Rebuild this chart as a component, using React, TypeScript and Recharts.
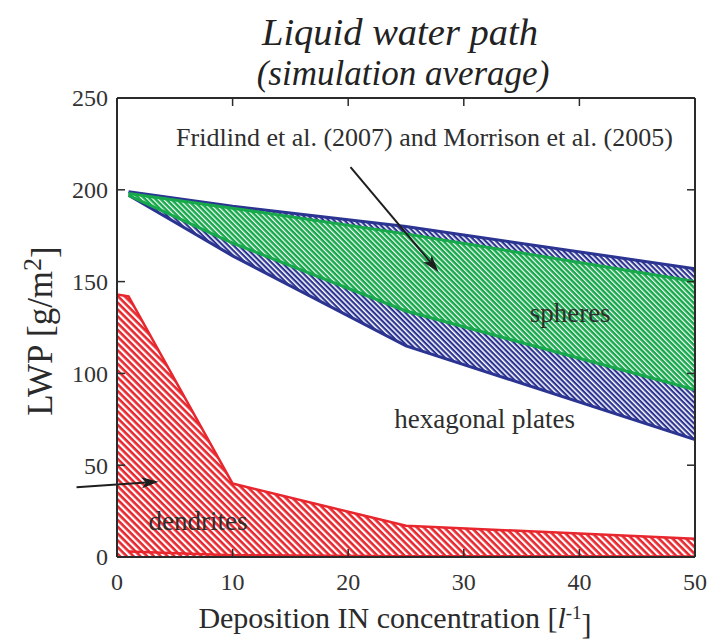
import React from 'react';
import {
  ComposedChart,
  Area,
  Line,
  XAxis,
  YAxis,
  ReferenceDot,
  ReferenceLine,
} from 'recharts';

// Deposition IN concentration [1/l] of the simulations
const bandConcentration = [1, 10, 25, 50];
const dendriteConcentration = [0, 1, 10, 25, 50];

// Liquid water path ranges [g/m2] for each ice habit
const platesLow = [197, 164, 115, 64];
const platesHigh = [199, 191, 180, 157];
const spheresLow = [197, 171, 134, 91];
const spheresHigh = [198, 190, 176, 150];
const dendritesHigh = [143, 142, 40, 17, 10];
const dendritesLow = [3, 1, 0.4, 0.3];

const xTicks = [0, 10, 20, 30, 40, 50];
const yTicks = [0, 50, 100, 150, 200, 250];

const habitNames = ['spheres', 'hexagonal plates', 'dendrites'];
const habitNameX = [39.2, 31.8, 7.0];
const habitNameY = [133, 75.5, 20];

const referenceNote = 'Fridlind et al. (2007) and Morrison et al. (2005)';
const referenceNoteAt = { x: 26.6, y: 229 };

// annotation arrows (tail -> tip) in axis units
const arrowTail = [
  { x: 20.2, y: 212.4 },
  { x: -3.5, y: 38 },
];
const arrowTip = [
  { x: 27.8, y: 155.4 },
  { x: 3.6, y: 41 },
];

const RED = '#e8262d';
const GREEN = '#17a84c';
const BLUE = '#2c3492';
const INK = '#2b2b2b';
const SERIF = '"Liberation Serif", "Times New Roman", serif';

const platesRows = bandConcentration.map((x, i) => ({ x, v: [platesLow[i], platesHigh[i]] }));
const spheresRows = bandConcentration.map((x, i) => ({ x, v: [spheresLow[i], spheresHigh[i]] }));
const dendriteRows = dendriteConcentration.map((x, i) => ({ x, v: dendritesHigh[i] }));
const dendriteFloorRows = bandConcentration.map((x, i) => ({ x, v: dendritesLow[i] }));

const TICK_LEN = 8;

const LeftTick = (p: any) => (
  <g>
    <line x1={p.x} x2={p.x + TICK_LEN} y1={p.y} y2={p.y} stroke={INK} strokeWidth={1.5} />
    <text x={p.x - 9} y={p.y} dy="0.35em" textAnchor="end" fontFamily={SERIF} fontSize={24} fill="#333">
      {p.payload.value}
    </text>
  </g>
);

const BottomTick = (p: any) => (
  <g>
    <line x1={p.x} x2={p.x} y1={p.y} y2={p.y - TICK_LEN} stroke={INK} strokeWidth={1.5} />
    <text x={p.x} y={p.y + 33} textAnchor="middle" fontFamily={SERIF} fontSize={24} fill="#333">
      {p.payload.value}
    </text>
  </g>
);

const TopTick = (p: any) => (
  <line x1={p.x} x2={p.x} y1={p.y} y2={p.y + TICK_LEN} stroke={INK} strokeWidth={1.5} />
);

const RightTick = (p: any) => (
  <line x1={p.x} x2={p.x - TICK_LEN} y1={p.y} y2={p.y} stroke={INK} strokeWidth={1.5} />
);

const arrowShape = (p: any) => {
  const { x1, y1, x2, y2 } = p;
  const a = Math.atan2(y2 - y1, x2 - x1);
  const c = Math.cos(a);
  const s = Math.sin(a);
  const len = 17;
  const half = 5.5;
  const bx = x2 - len * c;
  const by = y2 - len * s;
  const nx = x2 - len * 0.75 * c;
  const ny = y2 - len * 0.75 * s;
  const pts = [
    [x2, y2],
    [bx - half * s, by + half * c],
    [nx, ny],
    [bx + half * s, by - half * c],
  ]
    .map((q) => q.join(','))
    .join(' ');
  return (
    <g>
      <line x1={x1} y1={y1} x2={nx} y2={ny} stroke="#1e1e1e" strokeWidth={2} />
      <polygon points={pts} fill="#1e1e1e" />
    </g>
  );
};

const textShape = (label: string, size: number) => (p: any) => (
  <text
    x={p.cx}
    y={p.cy}
    dy="0.35em"
    textAnchor="middle"
    fontFamily={SERIF}
    fontSize={size}
    fill="#2e2e2e"
  >
    {label}
  </text>
);

export default function App() {
  return (
    <div style={{ position: 'absolute', left: 0, top: 0, background: '#fff' }}>
      <ComposedChart
        width={712}
        height={641}
        margin={{ top: 97, right: 16, bottom: 0, left: 0 }}
      >
        <defs>
          <pattern id="hatchRed" patternUnits="userSpaceOnUse" width={4.8} height={4.8} patternTransform="rotate(45)">
            <rect width={4.8} height={4.8} fill="#fff" />
            <rect width={4.8} height={2.6} fill={RED} />
          </pattern>
          <pattern id="hatchBlue" patternUnits="userSpaceOnUse" width={3.7} height={3.7} patternTransform="rotate(45)">
            <rect width={3.7} height={3.7} fill="#fff" />
            <rect width={3.7} height={2.2} fill={BLUE} />
          </pattern>
          <pattern id="hatchGreen" patternUnits="userSpaceOnUse" width={3.7} height={3.7} patternTransform="rotate(45)">
            <rect width={3.7} height={3.7} fill="#fff" />
            <rect width={3.7} height={2.5} fill={GREEN} />
          </pattern>
        </defs>

        <text x={400} y={45} textAnchor="middle" fontFamily={SERIF} fontStyle="italic" fontSize={38.5} fill="#222">
          Liquid water path
        </text>
        <text x={403} y={85} textAnchor="middle" fontFamily={SERIF} fontStyle="italic" fontSize={35} fill="#222">
          (simulation average)
        </text>
        <text
          x={40}
          y={331}
          transform="rotate(-90 40 331)"
          textAnchor="middle"
          dy="0.35em"
          fontFamily={SERIF}
          fontSize={35}
          fill="#2a2a2a"
        >
          LWP [g/m
          <tspan dy="-0.45em" fontSize={26}>2</tspan>
          <tspan dy="0.45em">]</tspan>
        </text>
        <text x={395} y={628} textAnchor="middle" fontFamily={SERIF} fontSize={30} fill="#2a2a2a">
          Deposition IN concentration [
          <tspan fontStyle="italic">l</tspan>
          <tspan dy="-0.5em" fontSize={19}>-1</tspan>
          <tspan dy="0.5em">]</tspan>
        </text>

        <XAxis
          dataKey="x"
          type="number"
          domain={[0, 50]}
          ticks={xTicks}
          allowDataOverflow
          height={84}
          tickSize={0}
          tickMargin={0}
          tickLine={false}
          axisLine={{ stroke: INK, strokeWidth: 2 }}
          tick={BottomTick}
        />
        <XAxis
          xAxisId="top"
          orientation="top"
          dataKey="x"
          type="number"
          domain={[0, 50]}
          ticks={xTicks}
          allowDataOverflow
          height={1}
          tickSize={0}
          tickMargin={0}
          tickLine={false}
          axisLine={{ stroke: INK, strokeWidth: 2 }}
          tick={TopTick}
        />
        <YAxis
          type="number"
          domain={[0, 250]}
          ticks={yTicks}
          allowDataOverflow
          width={117}
          tickSize={0}
          tickMargin={0}
          tickLine={false}
          axisLine={{ stroke: INK, strokeWidth: 2 }}
          tick={LeftTick}
        />
        <YAxis
          yAxisId="right"
          orientation="right"
          type="number"
          domain={[0, 250]}
          ticks={yTicks}
          allowDataOverflow
          width={1}
          tickSize={0}
          tickMargin={0}
          tickLine={false}
          axisLine={{ stroke: INK, strokeWidth: 2 }}
          tick={RightTick}
        />

        <Area
          data={platesRows}
          dataKey="v"
          type="linear"
          fill="url(#hatchBlue)"
          fillOpacity={1}
          stroke={BLUE}
          strokeWidth={3}
          isAnimationActive={false}
          dot={false}
          activeDot={false}
        />
        <Area
          data={spheresRows}
          dataKey="v"
          type="linear"
          fill="url(#hatchGreen)"
          fillOpacity={1}
          stroke={GREEN}
          strokeWidth={3}
          isAnimationActive={false}
          dot={false}
          activeDot={false}
        />
        <Area
          data={dendriteRows}
          dataKey="v"
          type="linear"
          fill="url(#hatchRed)"
          fillOpacity={1}
          stroke={RED}
          strokeWidth={2.5}
          isAnimationActive={false}
          dot={false}
          activeDot={false}
        />
        <Line
          data={dendriteFloorRows}
          dataKey="v"
          type="linear"
          stroke={RED}
          strokeWidth={2.5}
          isAnimationActive={false}
          dot={false}
          activeDot={false}
        />

        <ReferenceDot
          x={referenceNoteAt.x}
          y={referenceNoteAt.y}
          r={0}
          ifOverflow="visible"
          shape={textShape(referenceNote, 26)}
        />
        {habitNames.map((name, i) => (
          <ReferenceDot
            key={name}
            x={habitNameX[i]}
            y={habitNameY[i]}
            r={0}
            ifOverflow="visible"
            shape={textShape(name, 27)}
          />
        ))}
        {arrowTail.map((t, i) => (
          <ReferenceLine
            key={i}
            segment={[t, arrowTip[i]]}
            ifOverflow="visible"
            shape={arrowShape}
          />
        ))}
      </ComposedChart>
    </div>
  );
}
